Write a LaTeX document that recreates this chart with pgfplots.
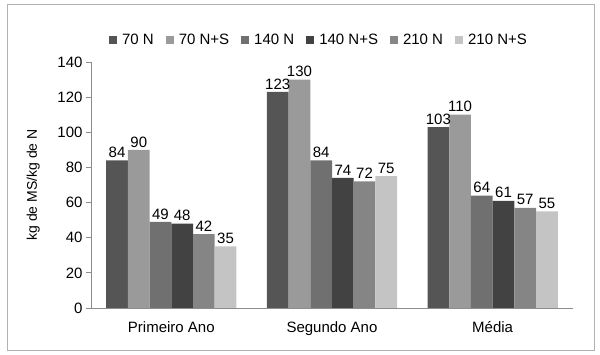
\documentclass[border=0pt]{standalone}
\usepackage{pgfplots}
\pgfplotsset{compat=1.18}
\usepackage{fontspec}
\setmainfont{Liberation Sans}
\definecolor{cA}{HTML}{555555}
\definecolor{cB}{HTML}{9A9A9A}
\definecolor{cC}{HTML}{707070}
\definecolor{cD}{HTML}{424242}
\definecolor{cE}{HTML}{858585}
\definecolor{cF}{HTML}{C4C4C4}
\definecolor{axisgray}{HTML}{8C8C8C}
\begin{document}
\begin{tikzpicture}[x=1pt,y=1pt]
\useasboundingbox (0,0) rectangle (600,355);
\draw[color=black!30, line width=1pt] (7,4) rectangle (594,350);
\begin{axis}[
  at={(91pt,47pt)}, anchor=south west,
  scale only axis, width=482pt, height=246pt,
  xmin=-0.5, xmax=2.5, ymin=0, ymax=140,
  ybar=0pt, bar width=21.7pt,
  axis x line*=bottom, axis y line*=left,
  axis line style={axisgray, line width=0.8pt},
  xtick={0,1,2}, xticklabels={Primeiro Ano, Segundo Ano, Média},
  major x tick style={draw=none},
  extra x ticks={-0.5,0.5,1.5,2.5}, extra x tick labels={},
  extra x tick style={major tick length=5pt, tick style={axisgray, line width=0.8pt}, tick align=outside},
  ytick={0,20,...,140},
  ytick style={axisgray, line width=0.8pt}, tick align=outside, major tick length=5pt,
  ticklabel style={font=\fontsize{15}{17}\selectfont, text=black},
  /pgf/number format/assume math mode=true,
  xticklabel style={yshift=-5pt},
  ylabel={kg de MS/kg de N},
  ylabel style={at={(axis description cs:-0.12,0.5)}, anchor=center, font=\fontsize{14}{16}\selectfont},
  nodes near coords,
  every node near coord/.append style={font=\fontsize{15}{17}\selectfont, text=black, inner sep=2.5pt},
  legend columns=6,
  legend style={draw=none, fill=none, at={(0.473,1.089)}, anchor=center,
    font=\fontsize{15}{17}\selectfont,
    /tikz/every odd column/.append style={column sep=3pt},
    /tikz/every even column/.append style={column sep=10pt}},
  legend image code/.code={\fill[#1,draw=none] (0pt,-4pt) rectangle (8pt,4pt);},
]
\addplot[fill=cA, draw=none] coordinates {(0,84) (1,123) (2,103)};
\addplot[fill=cB, draw=none] coordinates {(0,90) (1,130) (2,110)};
\addplot[fill=cC, draw=none] coordinates {(0,49) (1,84) (2,64)};
\addplot[fill=cD, draw=none] coordinates {(0,48) (1,74) (2,61)};
\addplot[fill=cE, draw=none] coordinates {(0,42) (1,72) (2,57)};
\addplot[fill=cF, draw=none] coordinates {(0,35) (1,75) (2,55)};
\legend{70 N, 70 N+S, 140 N, 140 N+S, 210 N, 210 N+S}
\end{axis}
\end{tikzpicture}
\end{document}
